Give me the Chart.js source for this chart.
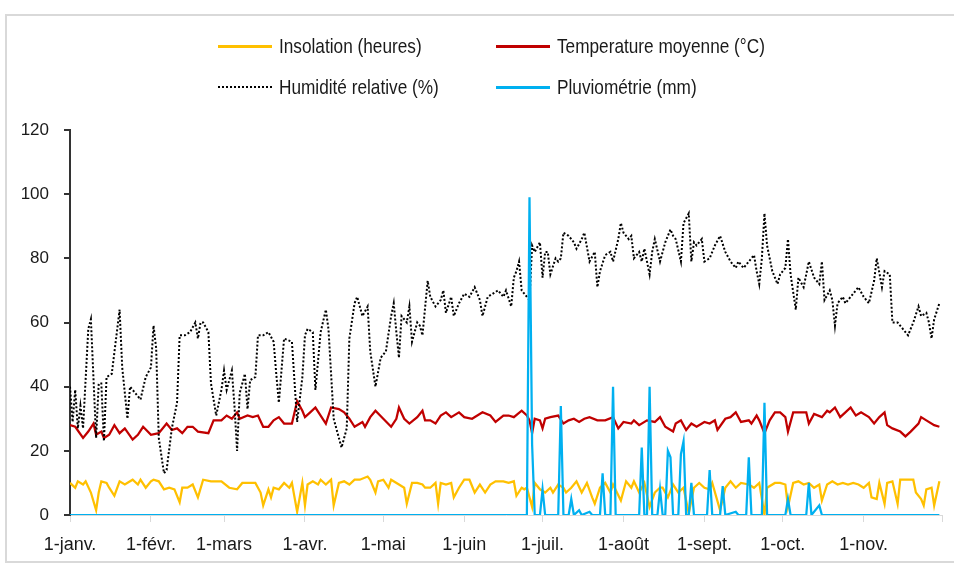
<!DOCTYPE html>
<html lang="fr">
<head>
<meta charset="utf-8">
<title>Données climatiques journalières</title>
<script src="https://cdn.jsdelivr.net/npm/chart.js@4.4.1/dist/chart.umd.min.js"></script>
<style>
  html, body { margin: 0; padding: 0; background: #fff; }
  body { width: 954px; height: 565px; position: relative; overflow: hidden;
         font-family: "Liberation Sans", Arial, sans-serif; }
  #frame { position: absolute; left: 5px; top: 14px; width: 1000px; height: 545px; border: 2px solid #d9d9d9; }
  #chart { position: absolute; left: 0; top: 0; }
  #legend { position: absolute; left: 218px; top: 34px; display: grid;
            grid-template-columns: 278px auto; row-gap: 17px; color: #1a1a1a; }
  .item { display: flex; align-items: center; height: 24px; white-space: nowrap; }
  .swatch { width: 54px; margin-right: 7px; }
  /* texte étroit façon Arial Narrow */
  .txt { display: inline-block; font-size: 21px; transform: scaleX(0.82); transform-origin: left center; }
</style>
</head>
<body>
<div id="frame"></div>
<canvas id="chart" width="954" height="565"></canvas>
<div id="legend"></div>
<script>
// Axe des x : jour de l'année (0 = 1er janvier)
const monthStarts = [0, 31, 59, 90, 120, 151, 181, 212, 243, 273, 304, 334];
const monthLabels = ["1-janv.", "1-févr.", "1-mars", "1-avr.", "1-mai", "1-juin",
                     "1-juil.", "1-août", "1-sept.", "1-oct.", "1-nov.", ""];
const yTicks = [0, 20, 40, 60, 80, 100, 120];

// Insolation (heures) : [jour, valeur]
const insolation = [
  [0,10],[2,8.5],[3,10.5],[5,9.5],[6,10.5],[8,7],[10,1.5],[11,7],[12,10.5],[14,10],[15,8.5],[17,6],
  [19,10.5],[21,9.5],[23,10.5],[24,11],[26,9.5],[27,11],[29,8.5],[31,10.5],[32,11],[34,10.5],[36,8],
  [38,8.5],[40,8],[42,4],[43,8.5],[45,8.5],[47,9.5],[49,5.5],[51,11],[54,10.5],[58,10.5],[61,8.5],
  [64,8],[66,10],[71,10],[73,7],[74,3],[76,8],[77,5.5],[78,8.5],[80,8],[82,10],[84,8.5],[85,10],
  [87,1],[89,10],[90,3],[91,9.5],[93,10.5],[95,9.5],[96,11],[98,9.5],[100,11],[101,3],[103,10],
  [105,10.5],[107,9.5],[109,11],[111,11],[114,12],[115,11],[117,7],[118,10.5],[120,11],[122,8.5],
  [123,11],[126,9.5],[128,8.5],[129,3.5],[131,10],[133,10],[135,9.5],[136,8.5],[138,8.5],[140,10],
  [141,3.5],[142,10],[144,9.5],[146,10],[147,5.5],[149,8.5],[151,11],[153,11],[155,7],[157,9.5],
  [159,7],[161,9.5],[163,10.5],[166,10.5],[168,10],[170,10.5],[171,6],[173,8.5],[174,8],[175,8.5],
  [177,2.5],[178,10],[180,8],[182,7],[184,8.5],[185,7],[187,9.5],[189,8.5],[190,7],[192,8.5],
  [194,10.5],[196,7],[198,10],[200,5.5],[201,3.5],[203,8.5],[205,10],[207,7],[208,9.5],[211,4.5],
  [213,10.5],[215,8.5],[216,10.5],[218,7],[220,10],[222,2.5],[224,7],[226,8.5],[227,8.5],[229,5.5],
  [231,9.5],[233,7],[235,8.5],[237,0.5],[239,8.5],[241,10],[243,8.5],[245,8],[246,10],[249,1.5],
  [251,8.5],[253,10.5],[255,8.5],[257,10],[260,9.5],[262,8.5],[264,10],[266,0],[267,8.5],[270,10],
  [272,10],[274,9.5],[275,2.5],[277,10],[279,10.5],[281,9.5],[283,10],[285,8.5],[287,9.5],[288,4.5],
  [290,9.5],[292,10.5],[294,9.5],[296,10],[298,9.5],[300,10],[302,9.5],[304,8.5],[306,10],[307,5.5],
  [309,5],[310,10],[312,3.5],[313,10],[315,10.5],[317,3.5],[318,11],[321,11],[323,11],[324,7],
  [326,5],[327,3],[328,8],[330,8.5],[331,3],[333,10.5]
];

// Température moyenne (°C)
const temperature = [
  [0,28],[2,27.5],[5,24],[7,26],[9,28.5],[10,25],[12,26],[13,24],[15,25],[17,28],[19,25.5],[21,27],
  [24,23.5],[26,25],[28,27.5],[31,25],[34,25.5],[37,28.5],[39,26.5],[41,27],[43,25.5],[45,27.5],
  [47,27.5],[49,26],[53,25.5],[55,29.5],[58,29.5],[60,31],[62,30],[64,32],[65,30],[68,31],[70,30.5],
  [72,31],[74,27.5],[76,27.5],[78,29.5],[80,30.5],[82,28.5],[85,28.5],[87,35.5],[89,32.5],[90,30.5],
  [92,32],[94,33.5],[96,31],[98,28.5],[100,33.5],[103,33],[105,32],[107,30],[109,27.5],[112,29],
  [113,27.5],[115,30.5],[117,32.5],[120,30],[123,27.5],[125,30],[126,33.5],[128,30],[130,28.5],
  [133,30.5],[135,32.5],[136,29.5],[138,29.5],[140,28.5],[142,31],[144,32],[146,30.5],[149,32],
  [151,30.5],[154,30],[158,32],[161,31],[163,29],[166,31],[168,31],[170,30.5],[173,32.5],[175,31],
  [176,29.5],[177,25.5],[178,30],[180,29.5],[181,27],[182,30],[184,30.5],[187,31],[189,28.5],
  [191,29.5],[193,30],[195,29],[197,30],[199,30.5],[202,29.5],[205,29.5],[208,30.5],[210,27],
  [212,29],[215,28.5],[216,29.5],[218,28],[221,29.5],[224,29],[226,30.5],[228,27.5],[231,26],
  [232,28.5],[234,29.5],[236,26.5],[238,28.5],[240,27.5],[243,29],[245,28.5],[247,29.5],[248,26.5],
  [251,30],[253,30.5],[255,32],[257,29],[260,29.5],[261,28.5],[263,31],[264,29.5],[266,25.5],
  [268,29.5],[270,32],[272,32],[274,30.5],[275,26],[277,32],[280,32],[282,32],[283,28.5],[285,31.5],
  [288,30.5],[290,32.5],[291,32],[293,33.5],[295,30.5],[297,32],[299,33.5],[301,31],[303,32],
  [306,30.5],[308,28.5],[310,30.5],[312,32],[313,28],[315,27],[318,26],[320,24.5],[322,26],
  [325,28.5],[326,30.5],[328,29.5],[331,28],[333,27.5]
];

// Humidité relative (%)
const humidite = [
  [0,40],[1,29],[2,39],[3,27],[4,34],[5,27],[7,58],[8,61],[10,24],[11,41],[12,41],[13,23],[14,43],
  [16,44],[19,64],[20,46],[22,30],[23,40],[25,38],[27,36],[29,43],[31,46],[32,59],[33,52],[34,24],
  [36,13],[37,14],[39,27],[41,35],[42,56],[44,56],[46,57],[48,60],[49,55],[50,60],[51,60],[53,57],
  [54,41],[56,31],[58,39],[59,45],[60,39],[62,45],[63,34],[64,20],[65,38],[67,44],[68,33],[69,42],
  [71,43],[72,56],[74,56],[76,57],[78,54],[79,44],[80,35],[82,55],[85,54],[87,29],[89,43],[90,56],
  [91,58],[93,57],[94,39],[96,57],[98,64],[99,58],[101,30],[104,21],[106,27],[107,55],[109,66],
  [110,68],[112,62],[114,65],[115,51],[117,40],[119,49],[121,51],[123,62],[124,66],[125,57],[126,49],
  [127,62],[129,60],[130,65],[131,54],[133,60],[134,59],[135,56],[137,73],[138,68],[140,65],[142,67],
  [143,70],[144,63],[146,68],[147,62],[149,66],[151,69],[153,68],[155,71],[157,67],[158,62],[160,68],
  [162,69],[164,70],[166,68],[167,70],[169,65],[170,74],[171,76],[172,79],[173,70],[175,68],[176,67],
  [177,84],[178,82],[180,85],[181,74],[182,82],[183,82],[184,75],[186,80],[187,79],[188,80],[189,88],
  [191,87],[193,85],[194,83],[196,86],[197,88],[199,79],[201,82],[202,71],[203,76],[205,81],[207,82],
  [208,79],[210,86],[211,91],[212,88],[214,86],[215,87],[216,80],[218,82],[219,79],[220,83],[222,75],
  [223,82],[224,86],[226,79],[228,85],[230,89],[231,87],[232,86],[234,79],[235,91],[237,94],[238,79],
  [239,85],[240,84],[242,86],[243,79],[245,80],[247,84],[249,87],[251,82],[253,79],[255,77],[256,79],
  [258,77],[260,79],[262,81],[263,76],[264,72],[265,80],[266,94],[267,84],[269,76],[271,72],[272,75],
  [274,77],[275,86],[276,75],[278,64],[279,74],[281,71],[282,75],[283,79],[285,74],[287,72],[288,79],
  [289,67],[291,70],[292,67],[293,59],[294,66],[296,68],[297,66],[299,68],[302,71],[304,68],[306,66],
  [308,73],[309,80],[311,71],[312,76],[314,75],[315,60],[317,60],[319,58],[321,56],[323,60],[325,65],
  [326,62],[328,63],[329,60],[330,55],[331,61],[333,66]
];

// Pluviométrie (mm)
const pluviometrie = [
  [0,0],[175,0],[176,99],[177,22],[178,0],[180,0],[181,8],[182,0],[187,0],[188,34],[189,0],[191,0],
  [192,5],[193,0],[195,1.5],[196,0],[199,1],[200,0],[203,0],[204,13],[205,0],[207,0],[208,40],[209,0],
  [218,0],[219,21],[220,0],[221,0],[222,40],[223,0],[225,0],[226,8],[227,0],[228,0],[229,20],[230,18],
  [231,0],[233,0],[234,19],[235,23],[236,0],[237,0],[238,10],[239,0],[244,0],[245,14],[246,0],[249,0],
  [250,9],[251,0],[255,1],[256,0],[259,0],[260,18],[261,0],[265,0],[266,35],[267,0],[274,0],[275,5],
  [276,0],[282,0],[283,10],[284,0],[287,3],[288,0],[333,0]
];

const fontFamily = '"Liberation Sans", Arial, sans-serif';
const toPoints = arr => arr.map(p => ({ x: p[0], y: p[1] }));

const datasets = [
  { label: "Insolation (heures)", data: toPoints(insolation), borderColor: "#FFC000", borderWidth: 2.25, order: 4 },
  { label: "Temperature moyenne (°C)", data: toPoints(temperature), borderColor: "#C00000", borderWidth: 2.25, order: 3 },
  { label: "Humidité relative (%)", data: toPoints(humidite), borderColor: "#000", borderWidth: 2,
    borderDash: [2, 2], order: 2 },
  { label: "Pluviométrie (mm)", data: toPoints(pluviometrie), borderColor: "#00B0F0", borderWidth: 2.25, order: 1 }
];

// Légende sur deux lignes, comme l'original
const legend = document.getElementById("legend");
datasets.forEach(ds => {
  const item = document.createElement("div");
  item.className = "item";
  const sw = document.createElement("span");
  sw.className = "swatch";
  sw.style.borderTop = ds.borderDash ? "2px dotted " + ds.borderColor : "3px solid " + ds.borderColor;
  const txt = document.createElement("span");
  txt.className = "txt";
  txt.textContent = ds.label;
  item.appendChild(sw);
  item.appendChild(txt);
  legend.appendChild(item);
});

const ctx = document.getElementById("chart").getContext("2d");
new Chart(ctx, {
  type: "line",
  data: { datasets },
  options: {
    responsive: false,
    animation: false,
    layout: { padding: { top: 130, right: 6, left: 0, bottom: 0 } },
    plugins: { legend: { display: false }, tooltip: { enabled: false } },
    elements: { point: { radius: 0 }, line: { tension: 0, fill: false } },
    scales: {
      x: {
        type: "linear", min: 0, max: 334,
        afterBuildTicks: s => { s.ticks = monthStarts.map(v => ({ value: v })); },
        afterFit: s => { s.height = 50; },
        ticks: {
          autoSkip: false, maxRotation: 0, padding: 12, color: "#1a1a1a",
          font: { family: fontFamily, size: 18 },
          callback: v => monthLabels[monthStarts.indexOf(v)]
        },
        grid: { drawOnChartArea: false, tickLength: 7, color: "#d9d9d9", lineWidth: 1 },
        border: { display: true, color: "#d9d9d9" }
      },
      y: {
        min: 0, max: 120,
        afterBuildTicks: s => { s.ticks = yTicks.map(v => ({ value: v })); },
        afterFit: s => { s.width = 70; },
        ticks: { padding: 15, color: "#1a1a1a", font: { family: fontFamily, size: 17 } },
        grid: { drawOnChartArea: false, tickLength: 6, color: "#333", lineWidth: 2 },
        border: { display: true, color: "#333", width: 2 }
      }
    }
  }
});
</script>
</body>
</html>
